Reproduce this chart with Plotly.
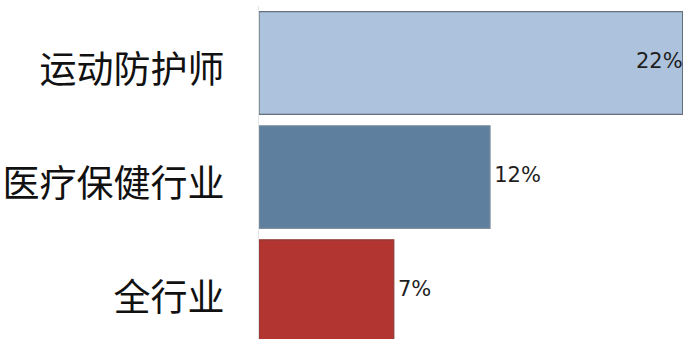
import plotly.graph_objects as go

categories = ["运动防护师", "医疗保健行业", "全行业"]
values = [22, 12, 7]
value_labels = ["22%", "12%", "7%"]
bar_colors = ["#adc2dc", "#5f7f9e", "#b23531"]
line_colors = ["#66707c", "#7d8ea0", "#8e3a36"]
label_positions = ["middle left", "middle right", "middle right"]
label_texts = [t if p == "middle left" else "\u2009" + t for t, p in zip(value_labels, label_positions)]

fig = go.Figure()
fig.add_trace(go.Bar(
    y=categories,
    x=values,
    orientation="h",
    marker=dict(color=bar_colors, line=dict(color=line_colors, width=1.2)),
    cliponaxis=False,
    width=0.9,
    hoverinfo="skip",
))
fig.add_trace(go.Scatter(
    y=categories,
    x=values,
    mode="text",
    text=label_texts,
    textposition=label_positions,
    textfont=dict(family="DejaVu Sans, Verdana, sans-serif", size=21, color="#1e1e1e"),
    cliponaxis=False,
    hoverinfo="skip",
))

fig.update_layout(
    width=683, height=339,
    margin=dict(l=259, r=0, t=6, b=0, autoexpand=False),
    paper_bgcolor="white", plot_bgcolor="white",
    showlegend=False,
    bargap=0.1,
)
fig.update_xaxes(range=[0, 22.02], showgrid=False, zeroline=False, showticklabels=False,
                 showline=False)
fig.update_yaxes(range=[2.42, -0.5], showgrid=False, zeroline=False,
                 showline=True, linecolor="#e4e4e4", linewidth=1,
                 ticks="", ticklabelstandoff=26, ticklabelshift=-7,
                 tickfont=dict(family="Noto Sans CJK SC", size=37, color="#111111"))

fig.write_html("out.html", config={"displayModeBar": False},
               post_script="document.body.style.margin='0';document.body.style.overflow='hidden';")
